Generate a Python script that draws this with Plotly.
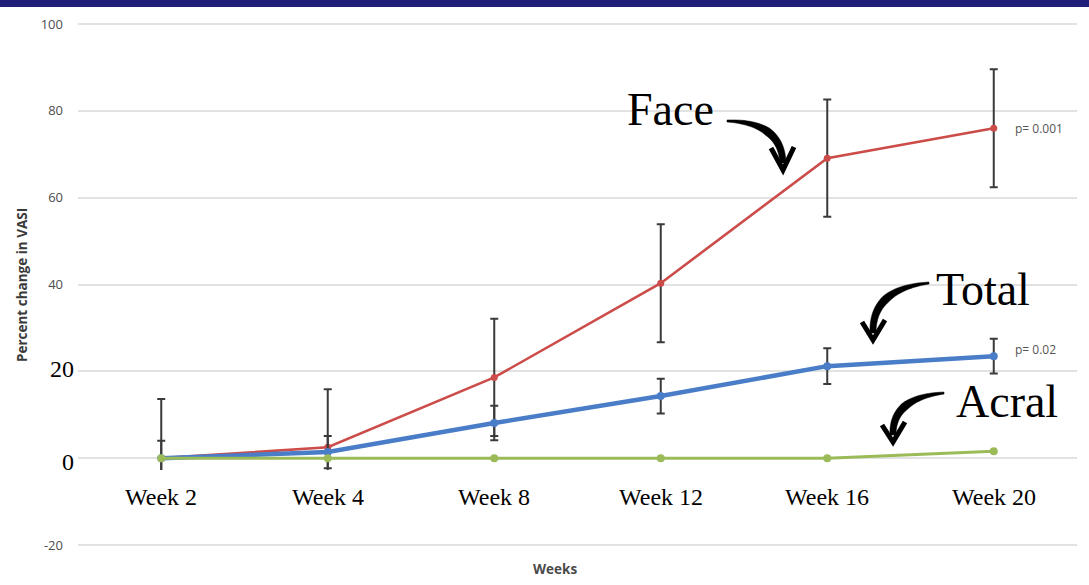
import numpy as np
import plotly.graph_objects as go

# ---- data -------------------------------------------------------------
weeks = ["Week 2", "Week 4", "Week 8", "Week 12", "Week 16", "Week 20"]

face = [0.0, 2.5, 18.6, 40.3, 69.1, 76.0]
face_err = [13.6, 13.4, 13.5, 13.6, 13.5, 13.6]

total = [0.0, 1.4, 8.1, 14.3, 21.2, 23.5]
total_err = [4.0, 3.7, 4.0, 4.0, 4.1, 4.0]

acral = [0.0, 0.0, 0.0, 0.0, 0.0, 1.6]

p_face = "p= 0.001"
p_total = "p= 0.02"

y_ticks = [-20, 0, 20, 40, 60, 80, 100]

# ---- geometry ---------------------------------------------------------
W, H = 1089, 585
# pixel rows of the 100 and -20 gridlines
TOP_PX, BOT_PX = 24, 545
SCALE = (BOT_PX - TOP_PX) / 120.0
EXTRA = 1.15  # small headroom so the edge gridlines are drawn
Y_LO, Y_HI = -20 - EXTRA, 100 + EXTRA
L, R = 78, 12
T = TOP_PX - EXTRA * SCALE
B = H - BOT_PX - EXTRA * SCALE
PW, PH = W - L - R, H - T - B


def px(x):
    return (x - L) / PW


def py(y):
    return (H - B - y) / PH


def path(cmds):
    out = []
    for c in cmds:
        if isinstance(c, str):
            out.append(c)
        else:
            out.append(f"{px(c[0]):.5f},{py(c[1]):.5f}")
    return " ".join(out)


def tapered_curve(p0, p1, p2, w0=2.0, wmax=8.0, w1=6.0, n=40):
    """Filled outline of a quadratic curve whose stroke swells then narrows."""
    p0, p1, p2 = map(np.asarray, (p0, p1, p2))
    t = np.linspace(0, 1, n)[:, None]
    pts = (1 - t) ** 2 * p0 + 2 * (1 - t) * t * p1 + t ** 2 * p2
    d = 2 * (1 - t) * (p1 - p0) + 2 * t * (p2 - p1)
    d = d / np.linalg.norm(d, axis=1, keepdims=True)
    nrm = np.column_stack([-d[:, 1], d[:, 0]])
    tt = t[:, 0]
    w = np.where(tt < 0.5, w0 + (wmax - w0) * (tt / 0.5),
                 wmax + (w1 - wmax) * ((tt - 0.5) / 0.5)) / 2
    left = pts + nrm * w[:, None]
    right = pts - nrm * w[:, None]
    ring = np.vstack([left, right[::-1]])
    cmds = ["M", tuple(ring[0])]
    for q in ring[1:]:
        cmds += ["L", tuple(q)]
    cmds.append("Z")
    return path(cmds)


SERIF = "Liberation Serif, Times New Roman, serif"
SANS = "Open Sans, Arial, sans-serif"

RED = "#cc4c4a"
BLUE = "#4a7dc8"
GREEN = "#9bbb59"
ERR = "#3a3a3a"

fig = go.Figure()

fig.add_trace(go.Scatter(
    x=weeks, y=face, mode="lines+markers", name="Face",
    line=dict(color=RED, width=2.6),
    marker=dict(color=RED, size=7),
    error_y=dict(type="data", array=face_err, visible=True,
                 color=ERR, thickness=2, width=4),
))
fig.add_trace(go.Scatter(
    x=weeks, y=total, mode="lines+markers", name="Total",
    line=dict(color=BLUE, width=4.5),
    marker=dict(color=BLUE, size=8),
    error_y=dict(type="data", array=total_err, visible=True,
                 color=ERR, thickness=2, width=4),
))
fig.add_trace(go.Scatter(
    x=weeks, y=acral, mode="lines+markers", name="Acral",
    line=dict(color=GREEN, width=3),
    marker=dict(color=GREEN, size=8),
))

shapes = []
# white band behind the week labels
shapes.append(dict(type="rect", xref="paper", yref="paper",
                   x0=0, x1=1, y0=py(521), y1=py(470),
                   fillcolor="white", line=dict(width=0), layer="above"))
# title bar strip along the top edge
shapes.append(dict(type="rect", xref="paper", yref="paper",
                   x0=px(0), x1=px(W), y0=py(7), y1=py(0),
                   fillcolor="#1f1f7a", line=dict(width=0), layer="above"))

# curved callout arrows: tapered body + chevron head
arrows = [
    ([(727, 121), (781, 122), (783, 163)], [(771, 148), (783, 170), (794, 147)]),
    ([(929, 283), (872, 289), (873, 333)], [(862, 322), (873, 340), (885, 320)]),
    ([(944, 393), (892, 398), (893, 435)], [(882, 425), (893, 442), (905, 422)]),
]
for body, head in arrows:
    shapes.append(dict(type="path", xref="paper", yref="paper",
                       path=tapered_curve(*body),
                       fillcolor="black", line=dict(color="black", width=0.5),
                       layer="above"))
    shapes.append(dict(type="path", xref="paper", yref="paper",
                       path=path(["M", head[0], "L", head[1], "L", head[2]]),
                       line=dict(color="black", width=5), layer="above"))


def note(text, xpix, ypix, font, xanchor="center", **kw):
    return dict(x=px(xpix), xref="paper", y=py(ypix), yref="paper",
                text=text, showarrow=False, xanchor=xanchor,
                yanchor="middle", font=font, **kw)


annotations = []
for wk in weeks:
    annotations.append(dict(x=wk, xref="x", y=py(497), yref="paper",
                            text=wk, showarrow=False,
                            xanchor="center", yanchor="middle",
                            font=dict(family=SERIF, size=24, color="black")))
for label, ypix in [("20", 369), ("0", 462)]:
    annotations.append(note(label, 76, ypix,
                            dict(family=SERIF, size=24, color="black"),
                            xanchor="right"))
for label, xpix, ypix in [("Face", 670, 110), ("Total", 983, 289), ("Acral", 1007, 401)]:
    annotations.append(note(label, xpix, ypix,
                            dict(family=SERIF, size=46, color="black")))
annotations.append(dict(x=px(1013), xref="paper", y=face[-1], yref="y",
                        text=p_face, showarrow=False, xanchor="left",
                        yanchor="middle",
                        font=dict(family=SANS, size=12, color="#555555")))
annotations.append(note(p_total, 1013, 349,
                        dict(family=SANS, size=12, color="#555555"),
                        xanchor="left"))
annotations.append(note("<b>Percent change in VASI</b>", 22, 285,
                        dict(family=SANS, size=13.5, color="#3a3a3a"),
                        textangle=-90))
annotations.append(note("<b>Weeks</b>", 555, 569,
                        dict(family=SANS, size=13.5, color="#4a4a4a")))

tick_text = ["" if v in (0, 20) else str(v) for v in y_ticks]

fig.update_layout(
    width=W, height=H,
    margin=dict(l=L, r=R, t=T, b=B, pad=0),
    paper_bgcolor="white", plot_bgcolor="white",
    showlegend=False,
    shapes=shapes,
    annotations=annotations,
    xaxis=dict(type="category", range=[-0.5, 5.5], showgrid=False,
               showticklabels=False, zeroline=False, showline=False, ticks=""),
    yaxis=dict(range=[Y_LO, Y_HI], tickvals=y_ticks, ticktext=tick_text,
               showgrid=True, gridcolor="#e2e2e2", gridwidth=2,
               zeroline=False, showline=False, ticks="",
               ticklabelstandoff=14,
               tickfont=dict(family=SANS, size=13, color="#4d4d4d")),
    hovermode=False,
)

fig.write_html("out.html")
